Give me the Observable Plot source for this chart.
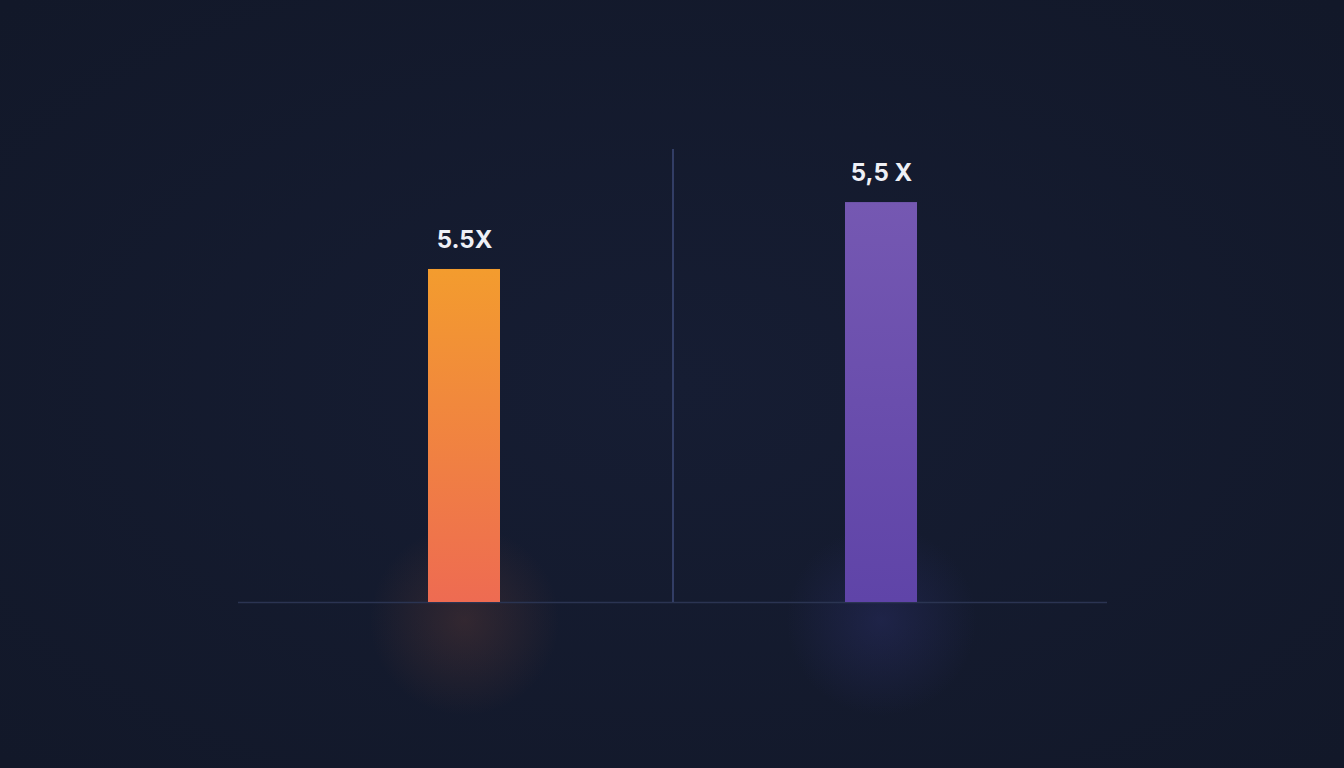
<!DOCTYPE html>
<html>
<head>
<meta charset="utf-8">
<script src="https://cdn.jsdelivr.net/npm/d3@7"></script>
<script src="https://cdn.jsdelivr.net/npm/@observablehq/plot@0.6"></script>
<style>
  html, body { margin: 0; padding: 0; background: #141b2f; overflow: hidden; }
  #chart { width: 1344px; height: 768px; }
  svg { display: block; }
</style>
</head>
<body>
<div id="chart"></div>
<script>
// Data
const categories = ["A", "B"];
const values = [4.58, 5.5];
const labels = ["5.5X", "5,5 X"];
const gradients = ["gradA", "gradB"];
const glows = ["glowA", "glowB"];
const yMax = 6.23;

const data = categories.map((c, i) => ({ cat: c, value: values[i], label: labels[i], grad: gradients[i], glow: glows[i] }));

const step = 417;
const chart = Plot.plot({
  width: 1344,
  height: 768,
  marginLeft: 238,
  marginRight: 237,
  marginTop: 149,
  marginBottom: 166,
  style: { background: "transparent", overflow: "visible" },
  x: { domain: categories, paddingInner: 0.827, paddingOuter: 0.453, axis: null },
  y: { domain: [0, yMax], axis: null },
  marks: [
    // glow below bars
    Plot.dot(data, { x: "cat", y: 0, r: 95, dy: 18, fill: d => `url(#${d.glow})`, stroke: null }),
    // baseline
    Plot.ruleY([0], { stroke: "#2b3452", strokeWidth: 1.5 }),
    // divider
    Plot.ruleX([categories[1]], { y1: 0, y2: yMax, dx: -step / 2, stroke: "#3c4a78", strokeWidth: 1.5 }),
    // bars
    Plot.barY(data, { x: "cat", y: "value", fill: d => `url(#${d.grad})` }),
    // labels
    Plot.text(data, { x: "cat", y: "value", text: "label", dy: -29, fill: "#eef0f6", fontSize: 24, fontWeight: 700, fontFamily: "Inter, 'Open Sans', sans-serif", letterSpacing: "0.5px" })
  ]
});

const svg = d3.select(chart);
const defs = svg.insert("defs", ":first-child");
function lin(id, top, bottom) {
  const g = defs.append("linearGradient").attr("id", id).attr("x1", 0).attr("y1", 0).attr("x2", 0).attr("y2", 1);
  g.append("stop").attr("offset", "0%").attr("stop-color", top);
  g.append("stop").attr("offset", "100%").attr("stop-color", bottom);
}
lin("gradA", "#f39c2e", "#ee6b52");
lin("gradB", "#7558b2", "#5f44a8");
function rad(id, color, op) {
  const g = defs.append("radialGradient").attr("id", id);
  g.append("stop").attr("offset", "0%").attr("stop-color", color).attr("stop-opacity", op);
  g.append("stop").attr("offset", "50%").attr("stop-color", color).attr("stop-opacity", op * 0.5);
  g.append("stop").attr("offset", "100%").attr("stop-color", color).attr("stop-opacity", 0);
}
rad("glowA", "#a0553a", 0.22);
rad("glowB", "#3e3f96", 0.25);

// background vignette
const bg = defs.append("radialGradient").attr("id", "bgGrad").attr("cx", "50%").attr("cy", "50%").attr("r", "70%");
bg.append("stop").attr("offset", "0%").attr("stop-color", "#161d33");
bg.append("stop").attr("offset", "100%").attr("stop-color", "#121829");
svg.insert("rect", "defs + *").attr("x", 0).attr("y", 0).attr("width", 1344).attr("height", 768).attr("fill", "url(#bgGrad)");

document.getElementById("chart").appendChild(chart);
</script>
</body>
</html>
